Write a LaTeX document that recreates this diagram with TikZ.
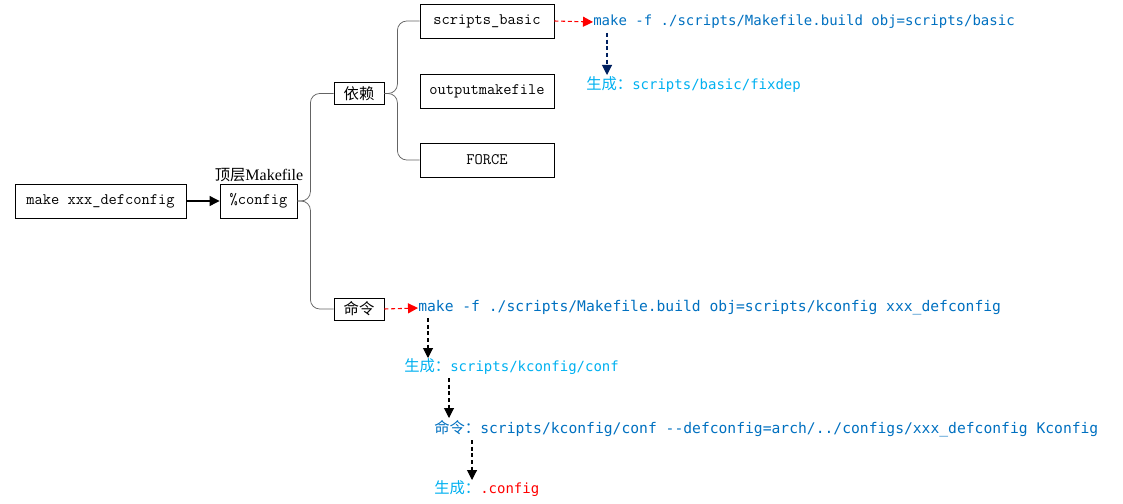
\documentclass[tikz,border=0pt]{standalone}
\usepackage{fontspec}
\setmainfont{Liberation Serif}
\newfontfamily\cjk{Noto Sans CJK SC}
\newfontfamily\codefnt{DejaVu Sans Mono}
\usetikzlibrary{arrows.meta,calc}
\definecolor{cmdblue}{RGB}{0,112,192}
\definecolor{genblue}{RGB}{0,176,240}
\definecolor{navyarrow}{RGB}{0,32,96}
\definecolor{treegray}{RGB}{100,100,100}
\begin{document}
\begin{tikzpicture}[x=0.75pt,y=-0.75pt,
  box/.style={draw, line width=0.65pt, inner sep=0pt, minimum height=25.5pt,
    font=\ttfamily\fontsize{12}{14}\selectfont},
  wbox/.style={box, minimum width=100.5pt},
  sbox/.style={draw, line width=0.65pt, inner sep=0pt, minimum width=37.5pt,
    minimum height=16.5pt, font=\cjk\fontsize{11.5}{12}\selectfont},
  txt/.style={anchor=west, inner sep=0pt, font=\codefnt\fontsize{10.5}{12}\selectfont},
  txtb/.style={anchor=west, inner sep=0pt, font=\codefnt\fontsize{11}{12}\selectfont},
  tree/.style={draw=treegray, line width=0.55pt, rounded corners=7pt},
  dsh/.style={dashed, dash pattern=on 3pt off 2pt, line width=0.8pt,
    -{Triangle[length=7.5pt,width=7.5pt]}},
]
\useasboundingbox (0,0) rectangle (1123,503);

% boxes
\node[box, minimum width=128.25pt] (mk) at (100.5,201) {make xxx\_defconfig};
\node[box, minimum width=57.75pt] (cfg) at (258.5,201) {\%config};
\node[font=\fontsize{12}{14}\selectfont, inner sep=0pt] (top) at (259,175) {{\cjk\fontsize{11.5}{14}\selectfont 顶层}Makefile};
\node[sbox] (dep) at (359,93.5) {依赖};
\node[sbox] (cmdn) at (359,309) {命令};
\node[wbox] (sb) at (487,21) {scripts\_basic};
\node[wbox] (om) at (487,91) {outputmakefile};
\node[wbox] (fc) at (487,160) {FORCE};

% texts
\node[txt, text=cmdblue] (c1) at (593,22) {make -f ./scripts/Makefile.build obj=scripts/basic};
\node[txt, text=genblue] (g1) at (586,85) {{\cjk\fontsize{11.5}{12}\selectfont 生成：}scripts/basic/fixdep};
\node[txtb, text=cmdblue] (c2) at (418,308) {make -f ./scripts/Makefile.build obj=scripts/kconfig xxx\_defconfig};
\node[txt, text=genblue] (g2) at (404,367) {{\cjk\fontsize{11.5}{12}\selectfont 生成：}scripts/kconfig/conf};
\node[txtb, text=cmdblue] (c3) at (434,429) {{\cjk\fontsize{11.5}{12}\selectfont 命令：}scripts/kconfig/conf -{}-defconfig=arch/../configs/xxx\_defconfig Kconfig};
\node[txt] (g3) at (434,489) {{\color{genblue}\cjk\fontsize{11.5}{12}\selectfont 生成：}{\color{red}.config}};

% tree connectors
\draw[tree] (cfg.east) -- ++(13,0) |- (dep.west);
\draw[tree] (cfg.east) -- ++(13,0) |- (cmdn.west);
\draw[tree] (dep.east) -- ++(13,0) |- (sb.west);
\draw[tree] (dep.east) -- ++(13,0) |- (fc.west);

% arrows
\draw[line width=0.8pt, -{Triangle[length=7.5pt,width=7.5pt]}] (mk.east) -- (cfg.west);
\draw[dsh, red] (sb.east) -- (c1.west);
\draw[dsh, red] (cmdn.east) -- (c2.west);
\draw[dsh, navyarrow] ($(c1.west)+(14,11)$) -- ($(g1.west)+(21,-10)$);
\draw[dsh, black] ($(c2.west)+(10,10)$) -- ($(g2.west)+(24,-9)$);
\draw[dsh, black] ($(g2.west)+(45,11)$) -- ($(c3.west)+(15,-11)$);
\draw[dsh, black] ($(c3.west)+(38,11)$) -- ($(g3.west)+(38,-9)$);
\end{tikzpicture}
\end{document}
